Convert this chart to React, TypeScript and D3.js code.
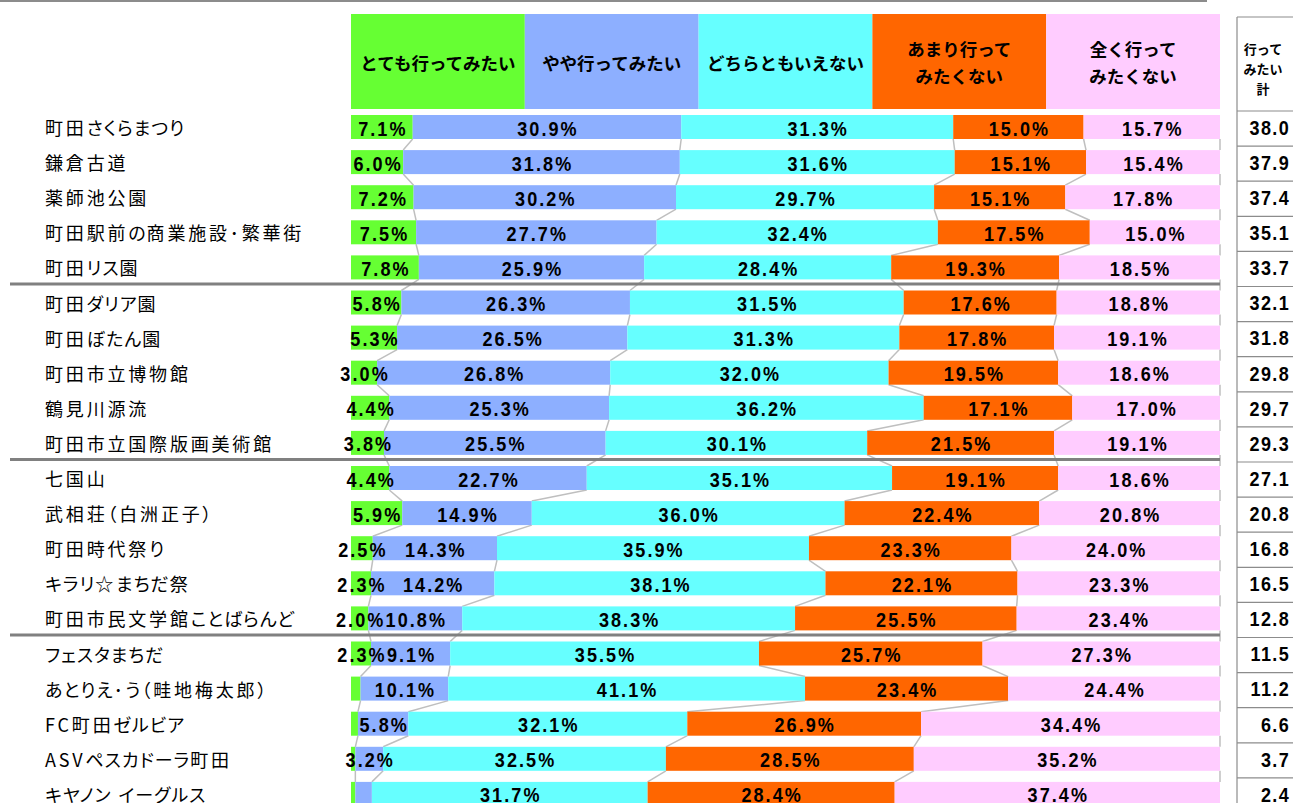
import React from "react";
import * as d3 from "d3";

const categories = [
  "町田さくらまつり",
  "鎌倉古道",
  "薬師池公園",
  "町田駅前の商業施設･繁華街",
  "町田リス園",
  "町田ダリア園",
  "町田ぼたん園",
  "町田市立博物館",
  "鶴見川源流",
  "町田市立国際版画美術館",
  "七国山",
  "武相荘（白洲正子）",
  "町田時代祭り",
  "キラリ☆まちだ祭",
  "町田市民文学館ことばらんど",
  "フェスタまちだ",
  "あとりえ･う（畦地梅太郎）",
  "FC町田ゼルビア",
  "ASVペスカドーラ町田",
  "キヤノン イーグルス",
];

const seriesNames = [
  ["とても行ってみたい"],
  ["やや行ってみたい"],
  ["どちらともいえない"],
  ["あまり行って", "みたくない"],
  ["全く行って", "みたくない"],
];

const veryMuch = [7.1, 6.0, 7.2, 7.5, 7.8, 5.8, 5.3, 3.0, 4.4, 3.8, 4.4, 5.9, 2.5, 2.3, 2.0, 2.3, 1.1, 0.8, 0.5, 0.5];
const somewhat = [30.9, 31.8, 30.2, 27.7, 25.9, 26.3, 26.5, 26.8, 25.3, 25.5, 22.7, 14.9, 14.3, 14.2, 10.8, 9.1, 10.1, 5.8, 3.2, 1.9];
const neither = [31.3, 31.6, 29.7, 32.4, 28.4, 31.5, 31.3, 32.0, 36.2, 30.1, 35.1, 36.0, 35.9, 38.1, 38.3, 35.5, 41.1, 32.1, 32.5, 31.7];
const notMuch = [15.0, 15.1, 15.1, 17.5, 19.3, 17.6, 17.8, 19.5, 17.1, 21.5, 19.1, 22.4, 23.3, 22.1, 25.5, 25.7, 23.4, 26.9, 28.5, 28.4];
const notAtAll = [15.7, 15.4, 17.8, 15.0, 18.5, 18.8, 19.1, 18.6, 17.0, 19.1, 18.6, 20.8, 24.0, 23.3, 23.4, 27.3, 24.4, 34.4, 35.2, 37.4];
const totals = ["38.0", "37.9", "37.4", "35.1", "33.7", "32.1", "31.8", "29.8", "29.7", "29.3", "27.1", "20.8", "16.8", "16.5", "12.8", "11.5", "11.2", "6.6", "3.7", "2.4"];
const totalHeader = ["行って", "みたい", "計"];
const groupBreaks = [4, 9, 14];

const colors = ["#66FF33", "#8DAFFF", "#66FFFF", "#FF6600", "#FFCCFF"];

const W = 1293;
const H = 803;
const X0 = 351;
const X1 = 1220;
const STEP = 35.1;
const BAR_H = 24;
const TOP = 115;
const SX = 0.86;

const isKana = (c: string) => /[\u3040-\u30FF]/.test(c);

export default function App() {
  const series = [veryMuch, somewhat, neither, notMuch, notAtAll];
  const x = d3.scaleLinear().domain([0, 100]).range([X0, X1]);
  const n = categories.length;
  const y = d3
    .scaleBand<number>()
    .domain(d3.range(n))
    .range([TOP, TOP + STEP * (n - 1) + BAR_H])
    .paddingInner((STEP - BAR_H) / STEP)
    .paddingOuter(0);
  const bw = y.bandwidth();

  const rows = categories.map((_, i) => {
    const vals = series.map((s) => s[i]);
    const sum = d3.sum(vals);
    let acc = 0;
    return vals.map((v) => {
      const start = (acc / sum) * 100;
      acc += v;
      const end = (acc / sum) * 100;
      return { v, start, end };
    });
  });

  const headerX = d3.scaleBand<number>().domain(d3.range(5)).range([X0, X1]);

  const labelFont = "'Noto Sans CJK JP', sans-serif";
  const numFont = "'Liberation Sans', Arial, sans-serif";

  return (
    <svg
      width={W}
      height={H}
      style={{ position: "absolute", left: 0, top: 0, background: "#fff" }}
    >
      <line x1={0} x2={1207} y1={1} y2={1} stroke="#8c8c8c" strokeWidth={2} />

      {seriesNames.map((lines, k) => {
        const hx = headerX(k)!;
        const hw = headerX.bandwidth();
        const cy = 62;
        return (
          <g key={"h" + k}>
            <rect x={hx} y={14} width={hw} height={95} fill={colors[k]} />
            {lines.map((t, li) => (
              <text
                key={li}
                x={hx + hw / 2}
                y={cy + (li - (lines.length - 1) / 2) * 27}
                textAnchor="middle"
                dominantBaseline="central"
                fontFamily={labelFont}
                fontWeight="bold"
                fontSize={17.5}
                fill="#000"
              >
                {t}
              </text>
            ))}
          </g>
        );
      })}

      {rows.slice(0, -1).map((r, i) =>
        r.map((seg, k) => (
          <line
            key={"c" + i + "-" + k}
            x1={x(seg.end)}
            y1={y(i)! + bw}
            x2={x(rows[i + 1][k].end)}
            y2={y(i + 1)!}
            stroke="#BFBFBF"
            strokeWidth={1.5}
          />
        ))
      )}

      {groupBreaks.map((i) => (
        <line
          key={"s" + i}
          x1={10}
          x2={X1}
          y1={y(i)! + bw + 4.5}
          y2={y(i)! + bw + 4.5}
          stroke="#808080"
          strokeWidth={3}
        />
      ))}

      {rows.map((r, i) => (
        <g key={"r" + i}>
          {r.map((seg, k) => (
            <rect
              key={k}
              x={x(seg.start)}
              y={y(i)!}
              width={Math.max(0, x(seg.end) - x(seg.start))}
              height={bw}
              fill={colors[k]}
            />
          ))}
          {r.map((seg, k) =>
            seg.v >= 2 ? (
              <text
                key={"t" + k}
                transform={`translate(${(x(seg.start) + x(seg.end)) / 2 + 1},${y(i)! + bw / 2 + 1}) scale(${SX},1)`}
                textAnchor="middle"
                dominantBaseline="central"
                fontFamily={numFont}
                fontWeight="bold"
                fontSize={21}
                letterSpacing={2.4}
                fill="#000"
              >
                {seg.v.toFixed(1) + "%"}
              </text>
            ) : null
          )}
          <text
            x={45}
            y={y(i)! + bw / 2}
            dominantBaseline="central"
            fontFamily={labelFont}
            fontSize={18}
            style={{ fontFeatureSettings: "'palt'" }}
            fill="#000"
          >
            {Array.from(categories[i]).map((c, ci) => (
              <tspan key={ci} letterSpacing={isKana(c) ? 1.0 : 2.8}>
                {c}
              </tspan>
            ))}
          </text>
        </g>
      ))}

      <line x1={1237} x2={1237} y1={17} y2={H} stroke="#8c8c8c" strokeWidth={1.2} />
      <line x1={1237} x2={W} y1={17} y2={17} stroke="#8c8c8c" strokeWidth={1.2} />
      {totalHeader.map((t, li) => (
        <text
          key={"th" + li}
          x={1263}
          y={48 + li * 20}
          textAnchor="middle"
          dominantBaseline="central"
          fontFamily={labelFont}
          fontWeight="bold"
          fontSize={13}
          fill="#000"
        >
          {t}
        </text>
      ))}
      {totals.map((t, i) => (
        <g key={"tot" + i}>
          <line
            x1={1237}
            x2={W}
            y1={y(i)! - 4}
            y2={y(i)! - 4}
            stroke="#8c8c8c"
            strokeWidth={1.2}
          />
          <text
            transform={`translate(1290,${y(i)! + bw / 2 + 1}) scale(0.9,1)`}
            textAnchor="end"
            dominantBaseline="central"
            fontFamily={numFont}
            fontWeight="bold"
            fontSize={20}
            letterSpacing={1.5}
            fill="#000"
          >
            {t}
          </text>
        </g>
      ))}
    </svg>
  );
}
